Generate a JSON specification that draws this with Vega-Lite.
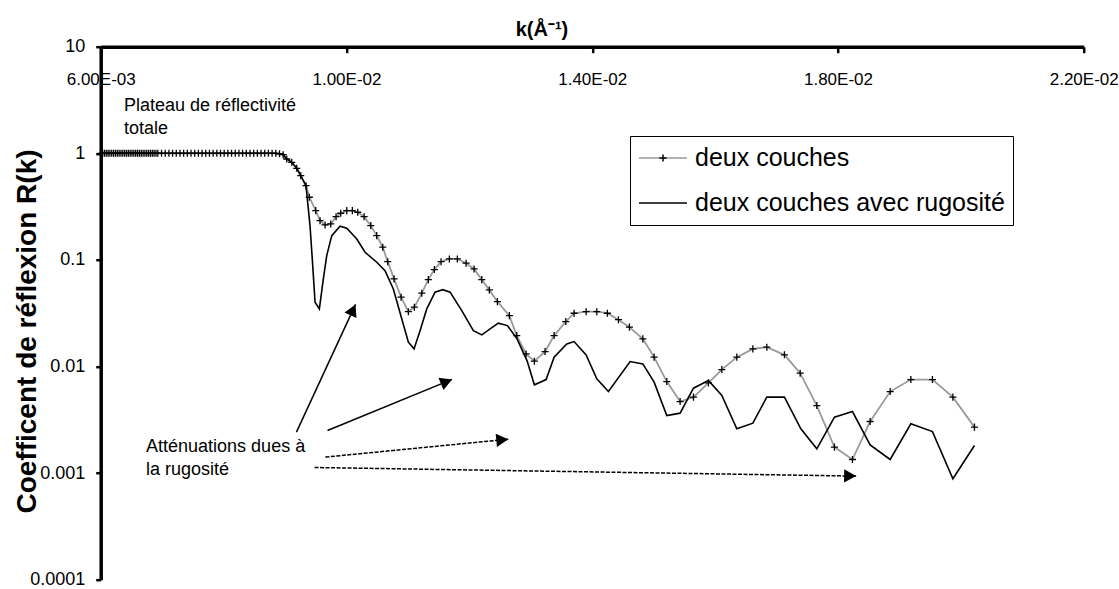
{
  "$schema": "https://vega.github.io/schema/vega-lite/v6.json",
  "width": 983,
  "height": 533,
  "autosize": {"type": "none"},
  "padding": {"left": 100.7, "top": 46.7, "right": 35.3, "bottom": 9.3},
  "background": "white",
  "config": {
    "view": {"stroke": null},
    "font": "Liberation Sans",
    "axis": {"grid": false}
  },
  "datasets": {
    "g": [
      {"k": 0.00600, "R": 1}, {"k": 0.00603, "R": 1}, {"k": 0.00606, "R": 1}, {"k": 0.00609, "R": 1},
      {"k": 0.00612, "R": 1}, {"k": 0.00615, "R": 1}, {"k": 0.00618, "R": 1}, {"k": 0.00621, "R": 1},
      {"k": 0.00624, "R": 1}, {"k": 0.00627, "R": 1}, {"k": 0.00630, "R": 1}, {"k": 0.00633, "R": 1},
      {"k": 0.00636, "R": 1}, {"k": 0.00639, "R": 1}, {"k": 0.00642, "R": 1}, {"k": 0.00645, "R": 1},
      {"k": 0.00648, "R": 1}, {"k": 0.00651, "R": 1}, {"k": 0.00654, "R": 1}, {"k": 0.00657, "R": 1},
      {"k": 0.00660, "R": 1}, {"k": 0.00663, "R": 1}, {"k": 0.00666, "R": 1}, {"k": 0.00669, "R": 1},
      {"k": 0.00672, "R": 1}, {"k": 0.00675, "R": 1}, {"k": 0.00678, "R": 1}, {"k": 0.00681, "R": 1},
      {"k": 0.00684, "R": 1}, {"k": 0.00687, "R": 1}, {"k": 0.00690, "R": 1}, {"k": 0.00693, "R": 1},
      {"k": 0.00699, "R": 1}, {"k": 0.00705, "R": 1}, {"k": 0.00711, "R": 1}, {"k": 0.00717, "R": 1},
      {"k": 0.00723, "R": 1}, {"k": 0.00729, "R": 1}, {"k": 0.00735, "R": 1}, {"k": 0.00741, "R": 1},
      {"k": 0.00747, "R": 1}, {"k": 0.00753, "R": 1}, {"k": 0.00759, "R": 1}, {"k": 0.00765, "R": 1},
      {"k": 0.00771, "R": 1}, {"k": 0.00777, "R": 1}, {"k": 0.00783, "R": 1}, {"k": 0.00789, "R": 1},
      {"k": 0.00795, "R": 1}, {"k": 0.00801, "R": 1}, {"k": 0.00807, "R": 1}, {"k": 0.00813, "R": 1},
      {"k": 0.00819, "R": 1}, {"k": 0.00825, "R": 1}, {"k": 0.00831, "R": 1}, {"k": 0.00837, "R": 1},
      {"k": 0.00843, "R": 1}, {"k": 0.00849, "R": 1}, {"k": 0.00855, "R": 1}, {"k": 0.00861, "R": 1},
      {"k": 0.00867, "R": 1}, {"k": 0.00873, "R": 1}, {"k": 0.00879, "R": 1}, {"k": 0.00885, "R": 1},
      {"k": 0.00891, "R": 0.99}, {"k": 0.00897, "R": 0.97},
      {"k": 0.009028, "R": 0.884}, {"k": 0.009109, "R": 0.823}, {"k": 0.009191, "R": 0.723},
      {"k": 0.009256, "R": 0.617}, {"k": 0.009342, "R": 0.497}, {"k": 0.009396, "R": 0.387},
      {"k": 0.009500, "R": 0.290}, {"k": 0.009570, "R": 0.2334}, {"k": 0.009652, "R": 0.2127},
      {"k": 0.009744, "R": 0.2174}, {"k": 0.009831, "R": 0.2544}, {"k": 0.009907, "R": 0.2738},
      {"k": 0.010005, "R": 0.290}, {"k": 0.010096, "R": 0.290}, {"k": 0.010184, "R": 0.2798},
      {"k": 0.010287, "R": 0.2544}, {"k": 0.010396, "R": 0.2096}, {"k": 0.010493, "R": 0.1689},
      {"k": 0.010591, "R": 0.1315}, {"k": 0.010672, "R": 0.0963}, {"k": 0.010775, "R": 0.0663},
      {"k": 0.010889, "R": 0.0447}, {"k": 0.011008, "R": 0.0327}, {"k": 0.011105, "R": 0.0360},
      {"k": 0.011226, "R": 0.0487}, {"k": 0.011333, "R": 0.0653}, {"k": 0.011431, "R": 0.0811},
      {"k": 0.011540, "R": 0.0963}, {"k": 0.011675, "R": 0.1021}, {"k": 0.011805, "R": 0.1021},
      {"k": 0.011947, "R": 0.0931}, {"k": 0.012077, "R": 0.0823}, {"k": 0.012203, "R": 0.0653},
      {"k": 0.012326, "R": 0.0523}, {"k": 0.012457, "R": 0.0406}, {"k": 0.012652, "R": 0.0300},
      {"k": 0.012772, "R": 0.0195}, {"k": 0.012924, "R": 0.01313}, {"k": 0.013059, "R": 0.01122},
      {"k": 0.013233, "R": 0.0138}, {"k": 0.013380, "R": 0.0195}, {"k": 0.013570, "R": 0.0264},
      {"k": 0.013705, "R": 0.0316}, {"k": 0.013901, "R": 0.0327}, {"k": 0.014075, "R": 0.0327},
      {"k": 0.014247, "R": 0.0316}, {"k": 0.014427, "R": 0.0275}, {"k": 0.014606, "R": 0.0234},
      {"k": 0.014824, "R": 0.01816}, {"k": 0.015008, "R": 0.01224}, {"k": 0.015214, "R": 0.00722},
      {"k": 0.015431, "R": 0.00469}, {"k": 0.015648, "R": 0.00516}, {"k": 0.015892, "R": 0.00702},
      {"k": 0.016110, "R": 0.00936}, {"k": 0.016354, "R": 0.01224}, {"k": 0.016615, "R": 0.01463},
      {"k": 0.016842, "R": 0.01518}, {"k": 0.017129, "R": 0.01286}, {"k": 0.017385, "R": 0.00866},
      {"k": 0.017656, "R": 0.00430}, {"k": 0.017943, "R": 0.001753}, {"k": 0.018236, "R": 0.001341},
      {"k": 0.018524, "R": 0.003047}, {"k": 0.018850, "R": 0.00582}, {"k": 0.019187, "R": 0.00754},
      {"k": 0.019538, "R": 0.00754}, {"k": 0.019871, "R": 0.00516}, {"k": 0.020222, "R": 0.0027}
    ],
    "b": [
      {"k": 0.006, "R": 1}, {"k": 0.00885, "R": 1}, {"k": 0.00891, "R": 0.99}, {"k": 0.00897, "R": 0.97},
      {"k": 0.009028, "R": 0.884}, {"k": 0.009109, "R": 0.823}, {"k": 0.009191, "R": 0.723},
      {"k": 0.009256, "R": 0.617}, {"k": 0.009342, "R": 0.494}, {"k": 0.009407, "R": 0.2096},
      {"k": 0.009451, "R": 0.0884}, {"k": 0.009489, "R": 0.0401}, {"k": 0.009559, "R": 0.0347},
      {"k": 0.009624, "R": 0.0663}, {"k": 0.009679, "R": 0.1096}, {"k": 0.009761, "R": 0.1689},
      {"k": 0.009896, "R": 0.2068}, {"k": 0.010005, "R": 0.198}, {"k": 0.010168, "R": 0.1572},
      {"k": 0.010303, "R": 0.118}, {"k": 0.010493, "R": 0.0951}, {"k": 0.010628, "R": 0.0793},
      {"k": 0.010763, "R": 0.0534}, {"k": 0.010900, "R": 0.028}, {"k": 0.011008, "R": 0.0169},
      {"k": 0.011100, "R": 0.01463}, {"k": 0.011198, "R": 0.0217}, {"k": 0.011307, "R": 0.0347},
      {"k": 0.011442, "R": 0.0498}, {"k": 0.011568, "R": 0.0526}, {"k": 0.011687, "R": 0.0498},
      {"k": 0.011877, "R": 0.0334}, {"k": 0.012066, "R": 0.0217}, {"k": 0.012203, "R": 0.0198},
      {"k": 0.012338, "R": 0.0225}, {"k": 0.012473, "R": 0.0255}, {"k": 0.012619, "R": 0.0242},
      {"k": 0.012777, "R": 0.01816}, {"k": 0.012940, "R": 0.0113}, {"k": 0.013059, "R": 0.00673},
      {"k": 0.013250, "R": 0.00754}, {"k": 0.013380, "R": 0.01224}, {"k": 0.013586, "R": 0.0163},
      {"k": 0.013705, "R": 0.01713}, {"k": 0.013901, "R": 0.01286}, {"k": 0.014075, "R": 0.00766},
      {"k": 0.014264, "R": 0.00582}, {"k": 0.014617, "R": 0.01112}, {"k": 0.014824, "R": 0.01058},
      {"k": 0.015008, "R": 0.00713}, {"k": 0.015214, "R": 0.00347}, {"k": 0.015431, "R": 0.00365},
      {"k": 0.015648, "R": 0.00626}, {"k": 0.015892, "R": 0.00738}, {"k": 0.016110, "R": 0.00534},
      {"k": 0.016354, "R": 0.0026}, {"k": 0.016615, "R": 0.00294}, {"k": 0.016842, "R": 0.00516},
      {"k": 0.017129, "R": 0.00516}, {"k": 0.017396, "R": 0.0026}, {"k": 0.017656, "R": 0.00169},
      {"k": 0.017943, "R": 0.00335}, {"k": 0.018236, "R": 0.00378}, {"k": 0.018524, "R": 0.00184},
      {"k": 0.018850, "R": 0.001341}, {"k": 0.019187, "R": 0.0029}, {"k": 0.019538, "R": 0.00245},
      {"k": 0.019871, "R": 0.000884}, {"k": 0.020222, "R": 0.001815}
    ],
    "arrows": [
      {"id": 1, "k1": 0.009186, "R1": 0.002423, "k2": 0.010148, "R2": 0.03823},
      {"id": 2, "k1": 0.009692, "R1": 0.002508, "k2": 0.011719, "R2": 0.00757},
      {"id": 3, "k1": 0.009657, "R1": 0.001413, "k2": 0.012634, "R2": 0.002079},
      {"id": 4, "k1": 0.009481, "R1": 0.001129, "k2": 0.018296, "R2": 0.000937}
    ],
    "notes": [
      {"k": 0.006379, "R": 2.508, "t": "Plateau de réflectivité\ntotale"},
      {"k": 0.006738, "R": 0.001574, "t": "Atténuations dues à\nla rugosité"}
    ]
  },
  "encoding": {
    "x": {
      "type": "quantitative",
      "scale": {"type": "linear", "domain": [0.006, 0.022], "nice": false, "zero": false},
      "axis": {
        "orient": "top",
        "values": [0.006, 0.010, 0.014, 0.018, 0.022],
        "labelExpr": "replace(format(datum.value, '.2e'), 'e-', 'E-0')",
        "labelFontSize": 17, "labelColor": "black", "labelFlush": false,
        "labelBaseline": "top", "labelPadding": -18.5, "labelOverlap": false,
        "tickSize": -6, "tickWidth": 2.5, "tickColor": "black",
        "domainColor": "black", "domainWidth": 3.5,
        "title": "k(Å⁻¹)", "titleFontSize": 20, "titleFontWeight": "bold", "titleColor": "black",
        "titleX": 440.8, "titleY": -11, "titleAlign": "center", "titleBaseline": "alphabetic"
      }
    },
    "y": {
      "type": "quantitative",
      "scale": {"type": "log", "domain": [0.0001, 10], "nice": false},
      "axis": {
        "orient": "left",
        "values": [0.0001, 0.001, 0.01, 0.1, 1, 10],
        "format": "~g",
        "labelFontSize": 18, "labelColor": "black", "labelPadding": 11,
        "labelFlush": false, "labelOverlap": false,
        "tickSize": 5, "tickWidth": 2.5, "tickColor": "black",
        "domainColor": "black", "domainWidth": 3.5,
        "title": "Coefficent de réflexion R(k)", "titleFontSize": 28, "titleFontWeight": "bold",
        "titleColor": "black", "titleAngle": -90, "titleX": -65.7, "titleY": 284.3,
        "titleAlign": "center", "titleBaseline": "alphabetic"
      }
    }
  },
  "layer": [
    {
      "data": {"name": "g"},
      "mark": {"type": "line", "strokeWidth": 1.8},
      "encoding": {
        "x": {"field": "k"},
        "y": {"field": "R"},
        "color": {
          "datum": "deux couches",
          "scale": {"domain": ["deux couches", "deux couches avec rugosité"], "range": ["#9a9a9a", "#000000"]},
          "legend": {
            "orient": "none", "legendX": 529.3, "legendY": 89.3, "title": null,
            "labelFontSize": 25, "labelFont": "Liberation Sans", "labelColor": "black", "labelLimit": 0,
            "symbolType": "M-1,0H1", "symbolSize": 2304, "symbolStrokeWidth": 1.5,
            "labelOffset": 7, "padding": 8, "clipHeight": 28, "rowPadding": 17,
            "strokeColor": "black", "fillColor": "white"
          }
        }
      }
    },
    {
      "data": {"name": "b"},
      "mark": {"type": "line", "strokeWidth": 1.6},
      "encoding": {
        "x": {"field": "k"},
        "y": {"field": "R"},
        "color": {"datum": "deux couches avec rugosité"}
      }
    },
    {
      "data": {"name": "g"},
      "mark": {"type": "point", "filled": false, "color": "black", "opacity": 1, "size": 2200, "strokeWidth": 1.3},
      "encoding": {
        "x": {"field": "k"},
        "y": {"field": "R"},
        "shape": {
          "datum": "deux couches",
          "scale": {"domain": ["deux couches"], "range": ["M-0.15,0H0.15M0,-0.15V0.15"]},
          "legend": {
            "orient": "none", "legendX": 529.3, "legendY": 89.3, "title": null,
            "labelFontSize": 25, "labelFont": "Liberation Sans", "labelOpacity": 0, "labelLimit": 0,
            "symbolSize": 2304, "symbolStrokeWidth": 1.5, "symbolStrokeColor": "black",
            "symbolFillColor": "transparent",
            "labelOffset": 7, "padding": 8, "clipHeight": 28, "rowPadding": 17
          }
        }
      }
    },
    {
      "data": {"name": "arrows"},
      "transform": [{"filter": "datum.id <= 2"}],
      "mark": {"type": "rule", "color": "black", "strokeWidth": 1.5},
      "encoding": {
        "x": {"field": "k1"},
        "y": {"field": "R1"},
        "x2": {"field": "k2"},
        "y2": {"field": "R2"}
      }
    },
    {
      "data": {"name": "arrows"},
      "transform": [{"filter": "datum.id >= 3"}],
      "mark": {"type": "rule", "color": "black", "strokeWidth": 1.5, "strokeDash": [4, 1.5]},
      "encoding": {
        "x": {"field": "k1"},
        "y": {"field": "R1"},
        "x2": {"field": "k2"},
        "y2": {"field": "R2"}
      }
    },
    {
      "data": {"name": "arrows"},
      "mark": {"type": "point", "filled": true, "color": "black", "opacity": 1, "size": 576, "shape": "M0,0L-0.55,1L0.55,1Z"},
      "encoding": {
        "x": {"field": "k2"},
        "y": {"field": "R2"},
        "angle": {
          "field": "id", "type": "quantitative",
          "scale": {"type": "threshold", "domain": [1.5, 2.5, 3.5], "range": [25, 67.6, 84.4, 90.9]},
          "legend": null
        }
      }
    },
    {
      "data": {"name": "notes"},
      "mark": {"type": "text", "align": "left", "baseline": "alphabetic", "fontSize": 18, "lineBreak": "\n", "lineHeight": 23, "color": "black", "font": "Liberation Sans"},
      "encoding": {
        "x": {"field": "k"},
        "y": {"field": "R"},
        "text": {"field": "t"}
      }
    }
  ]
}
